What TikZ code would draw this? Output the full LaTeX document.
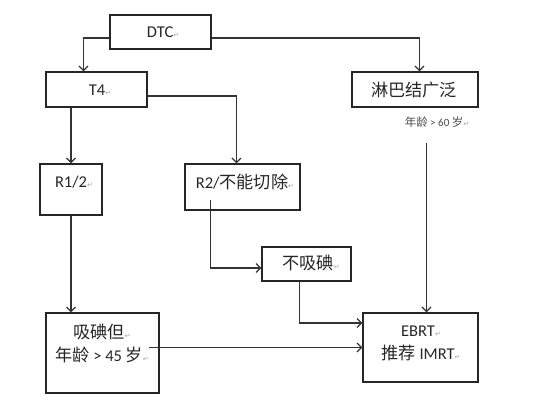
\documentclass[tikz,border=0pt]{standalone}
\usepackage{fontspec}
\setmainfont{Carlito}
\newfontfamily\cjk{Noto Sans CJK SC}[Scale=1.04]
\newfontfamily\dejavu{DejaVu Sans}
\usetikzlibrary{arrows.meta,calc}
\newcommand{\pmark}{{\dejavu\fontsize{7}{7}\selectfont\color{gray!70}↵}}
\begin{document}
\begin{tikzpicture}[x=1pt,y=-1pt,
  box/.style={draw=black!85,line width=1.1pt,inner sep=0pt,fill=white},
  txt/.style={inner sep=0pt,font=\fontsize{16.5}{16.5}\selectfont,text=black!85},
  arr/.style={draw=black!80,line width=1.3pt,-{Straight Barb[length=4.5pt,width=9pt,line width=1.3pt]}},
  ln/.style={draw=black!80,line width=1.3pt}]
\useasboundingbox[fill=white] (0,0) rectangle (545,409);
% boxes
\node[box,minimum width=101pt,minimum height=34pt] (dtc) at (160.5,32) {};
\node[box,minimum width=101pt,minimum height=35pt] (t4) at (96.5,89.5) {};
\node[box,minimum width=126pt,minimum height=35pt] (lymph) at (415,89.5) {};
\node[box,minimum width=62pt,minimum height=51pt] (r12) at (71,189.5) {};
\node[box,minimum width=115pt,minimum height=46pt] (r2) at (242.5,187) {};
\node[box,minimum width=89pt,minimum height=34pt] (nou) at (306.5,264) {};
\node[box,minimum width=113pt,minimum height=80pt] (upt) at (102.5,353) {};
\node[box,minimum width=115pt,minimum height=69pt] (ebrt) at (420.5,347.5) {};
% texts
\node[txt] (tdtc) at (163,32) {DTC\pmark};
\node[txt] (tt4) at (100,90) {T4\pmark};
\node[txt] (tlymph) at (414,90) {\cjk 淋巴结广泛};
\node[txt,font=\fontsize{11}{11}\selectfont,text=black!70] (tage) at (437,122) {{\cjk 年龄} > 60 {\cjk 岁}\pmark};
\node[txt] (tr12) at (74,182) {R1/2\pmark};
\node[txt] (tr2) at (245,182) {R2/{\cjk 不能切除}\pmark};
\node[txt] (tnou) at (311,263) {{\cjk 不吸碘}\pmark};
\node[txt,align=center,font=\fontsize{16.5}{23}\selectfont] (tupt) at (102,343.5) {{\cjk 吸碘但}\pmark\\{\cjk 年龄} > 45 {\cjk 岁}\pmark};
\node[txt,align=center,font=\fontsize{16.5}{23}\selectfont] (tebrt) at (421,343.5) {EBRT\pmark\\{\cjk 推荐} IMRT\pmark};
% connectors
\draw[arr] ([yshift=-6pt]dtc.west) -| ([xshift=38pt]t4.north west);
\draw[arr] ([yshift=-6pt]dtc.east) -| ([xshift=68pt]lymph.north west);
\draw[arr] (t4.south -| r12.north) -- (r12.north);
\draw[arr] ([yshift=-6.5pt]t4.east) -| ([xshift=52pt]r2.north west);
\draw[arr] ([xshift=26pt,yshift=11pt]r2.south west) |- ([yshift=-4pt]nou.west);
\draw[arr] ([xshift=38pt]nou.south west) |- ([yshift=24.5pt]ebrt.west);
\draw[arr] (r12.south) -- (r12.south |- upt.north);
\draw[arr] ($(upt.east |- ebrt.west)+(-11,0)$) -- (ebrt.west);
\coordinate (lt) at ($(lymph.south west)+(75,35)$);
\draw[arr] (lt) -- (lt |- ebrt.north);
\end{tikzpicture}
\end{document}
